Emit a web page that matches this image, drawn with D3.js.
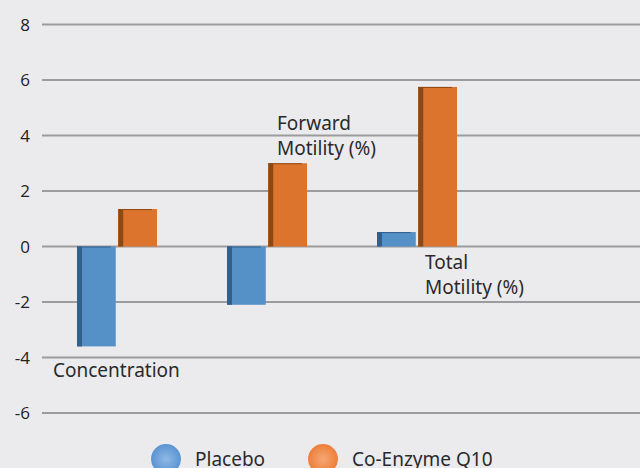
<!DOCTYPE html>
<meta charset="utf-8">
<script src="https://cdn.jsdelivr.net/npm/d3@7"></script>
<style>
body { margin: 0; background: #ebebee; }
text { font-family: "Open Sans", sans-serif; fill: #222; }
.cat { font-family: "Noto Sans", sans-serif; font-size: 19px; fill: #2a2a2a; }
</style>
<body>
<script>

var categories = ["Concentration", "Forward Motility (%)", "Total Motility (%)"];
var seriesNames = ["Placebo", "Co-Enzyme Q10"];
var placebo = [-3.6, -2.1, 0.52];
var coq10 = [1.35, 3.0, 5.75];
var yTicks = [-6, -4, -2, 0, 2, 4, 6, 8];

var width = 640, height = 468;

var svg = d3.select("body").append("svg")
    .attr("width", width)
    .attr("height", height);

svg.append("rect").attr("width", width).attr("height", height).attr("fill", "#ebebee");

var y = d3.scaleLinear().domain([-6, 8]).range([413, 24.5]);

var x = d3.scaleBand().domain(categories).range([42, 492]).paddingInner(0).paddingOuter(0);
var x1 = d3.scaleBand().domain(seriesNames).range([0, 80]).paddingInner(0.06);

var colors = {
  "Placebo": { main: "#5590c7", side: "#335f8a" },
  "Co-Enzyme Q10": { main: "#dc742e", side: "#8e4813" }
};

// grid lines
svg.append("g").selectAll("line")
    .data(yTicks)
    .enter().append("line")
    .attr("x1", 42).attr("x2", width)
    .attr("y1", function(d) { return y(d); })
    .attr("y2", function(d) { return y(d); })
    .attr("stroke", "#9c9c9e")
    .attr("stroke-width", 2);

// tick labels
svg.append("g").selectAll("text")
    .data(yTicks)
    .enter().append("text")
    .attr("x", 30)
    .attr("y", function(d) { return y(d) + 6; })
    .attr("text-anchor", "end")
    .style("font-size", "17px")
    .text(function(d) { return d; });

var rows = [];
categories.forEach(function(c, i) {
  rows.push({ cat: c, series: "Placebo", value: placebo[i] });
  rows.push({ cat: c, series: "Co-Enzyme Q10", value: coq10[i] });
});

var bar = svg.append("g").selectAll("g")
    .data(rows)
    .enter().append("g")
    .attr("transform", function(d) {
      return "translate(" + (x(d.cat) + (x.bandwidth() - 80) / 2 + x1(d.series)) + ",0)";
    });

bar.append("rect")
    .attr("x", 0)
    .attr("width", x1.bandwidth())
    .attr("y", function(d) { return y(Math.max(0, d.value)); })
    .attr("height", function(d) { return Math.abs(y(d.value) - y(0)); })
    .attr("fill", function(d) { return colors[d.series].main; });

// darker side for the 3d look
bar.append("rect")
    .attr("x", 0)
    .attr("width", 5)
    .attr("y", function(d) { return y(Math.max(0, d.value)); })
    .attr("height", function(d) { return Math.abs(y(d.value) - y(0)); })
    .attr("fill", function(d) { return colors[d.series].side; });

bar.append("rect")
    .attr("x", 0)
    .attr("width", x1.bandwidth() - 5)
    .attr("y", function(d) { return y(Math.max(0, d.value)); })
    .attr("height", 1)
    .attr("fill", function(d) { return colors[d.series].side; });

// category labels placed near the bars
var catLabels = [
  { lines: ["Concentration"], dx: -64, at: -4.5 },
  { lines: ["Forward", "Motility (%)"], dx: 10, at: 4.4 },
  { lines: ["Total", "Motility (%)"], dx: 8, at: -0.6 }
];

categories.forEach(function(c, i) {
  var lab = catLabels[i];
  var t = svg.append("text")
      .attr("class", "cat")
      .attr("x", x(c) + x.bandwidth() / 2 + lab.dx)
      .attr("y", y(lab.at) + 6);
  lab.lines.forEach(function(s, k) {
    t.append("tspan")
      .attr("x", x(c) + x.bandwidth() / 2 + lab.dx)
      .attr("dy", k === 0 ? 0 : 24.5)
      .text(s);
  });
});

// legend
var defs = svg.append("defs");
seriesNames.forEach(function(s, i) {
  var g = defs.append("radialGradient").attr("id", "lg" + i)
      .attr("cx", "50%").attr("cy", "50%").attr("r", "55%");
  g.append("stop").attr("offset", "0%").attr("stop-color", i === 0 ? "#8fb9e6" : "#f6a877");
  g.append("stop").attr("offset", "100%").attr("stop-color", i === 0 ? "#5590d0" : "#ec7a32");
});

var legend = svg.append("g").selectAll("g")
    .data(seriesNames)
    .enter().append("g")
    .attr("transform", function(d, i) { return "translate(" + (166 + i * 157) + ",459)"; });

legend.append("circle")
    .attr("r", 15)
    .attr("fill", function(d, i) { return "url(#lg" + i + ")"; });

legend.append("text")
    .attr("class", "cat")
    .attr("x", 29)
    .attr("y", 7)
    .style("font-size", "19px")
    .text(function(d) { return d; });

</script>
</body>
